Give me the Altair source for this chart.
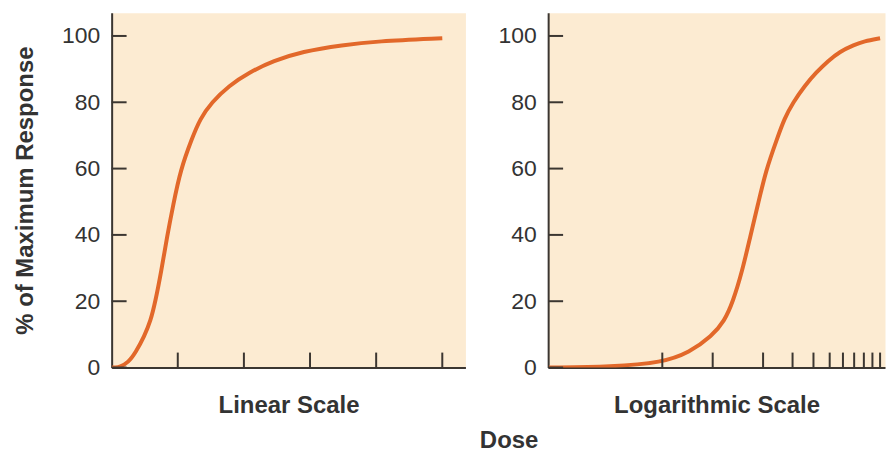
import altair as alt
import pandas as pd

# ---- data ----
dose = [0, 0.21, 0.5, 1.0, 1.45, 1.98, 2.35, 2.64, 3.0, 3.36, 3.72, 4.17, 4.85, 5.35, 6.05,
        7.1, 8.3, 9.8, 11.5, 14.0, 16.0, 20.0]
response = [0, 0.0, 0.2, 1.5, 4.5, 9.5, 14, 19.8, 29, 39.7, 49, 59.7, 69, 75, 80,
            85, 89, 92.5, 95.3, 97.3, 98.4, 99.3]
linear_ticks = [4, 8, 12, 16, 20]
log_ticks = [1, 2, 4, 6, 8, 10, 12, 14, 16, 18, 20]
y_ticks = [0, 20, 40, 60, 80, 100]

curve = pd.DataFrame({"dose": dose, "response": response})
lin_tick_df = pd.DataFrame({"dose": linear_ticks})
log_tick_df = pd.DataFrame({"dose": log_ticks})
y_tick_df = pd.DataFrame({"response": y_ticks})

W1, W2, H = 355, 338, 356
TICK = 15
LINE = "#E2682A"
BG = "#FCEBD2"
AX = "#3b3631"
TXT = "#333333"
FONT = "Liberation Sans"

yscale = alt.Scale(domain=[0, 107], nice=False, zero=False)


def y_axis(with_title):
    kw = dict(values=y_ticks, ticks=False, grid=False, domainColor=AX, domainWidth=2,
              labelFontSize=23, labelColor=TXT, labelFont=FONT, labelPadding=12)
    if with_title:
        kw.update(title="% of Maximum Response", titleFontSize=24, titleFont=FONT,
                  titleFontWeight="bold", titleColor=TXT, titlePadding=24)
    else:
        kw.update(title="")
    return alt.Axis(**kw)


def x_axis(title):
    return alt.Axis(title=title, labels=False, ticks=False, grid=False, domainColor=AX,
                    domainWidth=2, titleFontSize=24, titleFont=FONT, titleFontWeight="bold",
                    titleColor=TXT, titlePadding=26)


def panel(xscale, title, ticks_df, width, with_ytitle, filt=None):
    X = alt.X("dose:Q", scale=xscale, axis=x_axis(title))
    Y = alt.Y("response:Q", scale=yscale, axis=y_axis(with_ytitle))
    base = alt.Chart(curve)
    if filt:
        base = base.transform_filter(filt)
    line = base.mark_line(color=LINE, strokeWidth=4, interpolate="basis", clip=True).encode(
        x=X, y=Y,
    )
    xt = alt.Chart(ticks_df).mark_rule(color=AX, strokeWidth=2).encode(
        x=X, y=alt.value(H - TICK), y2=alt.value(H),
    )
    yt = alt.Chart(y_tick_df).mark_rule(color=AX, strokeWidth=2).encode(
        y=Y, x=alt.value(0), x2=alt.value(TICK),
    )
    return alt.layer(line, xt, yt).properties(width=width, height=H)


left = panel(alt.Scale(domain=[0, 21.4], nice=False, zero=False), "Linear Scale",
             lin_tick_df, W1, True)
right = panel(alt.Scale(type="log", domain=[0.208, 21.4], nice=False), "Logarithmic Scale",
              log_tick_df, W2, False, filt="datum.dose > 0")

chart = alt.hconcat(left, right, spacing=31).properties(
    title=alt.TitleParams("Dose", orient="bottom", anchor="middle", fontSize=24,
                          fontWeight="bold", font=FONT, color=TXT, dx=60, offset=11),
    padding={"left": 5, "top": 3, "right": 0, "bottom": 0},
).configure_view(fill=BG, stroke="transparent")

chart.save("out.html", embed_options={"renderer": "svg", "actions": False})
